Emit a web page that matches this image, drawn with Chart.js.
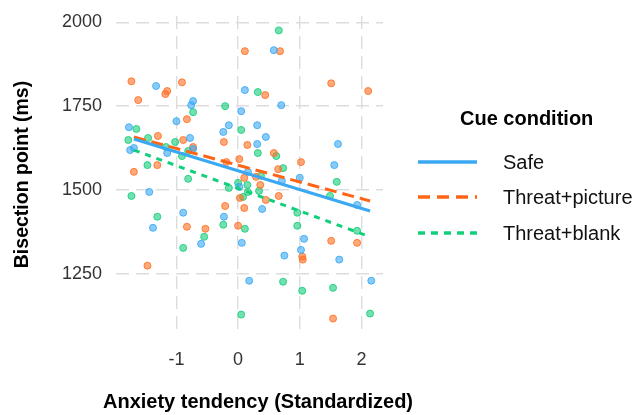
<!DOCTYPE html>
<html>
<head>
<meta charset="utf-8">
<script src="https://cdn.jsdelivr.net/npm/chart.js@4/dist/chart.umd.min.js"></script>
<style>
  body { margin: 0; background: #fff; font-family: "Liberation Sans", Arial, sans-serif; }
  #wrap { position: relative; width: 635px; height: 415px; }
  .lg-title { position: absolute; left: 460px; top: 107px; font-weight: bold; font-size: 20px; color: #000; }
  .lg-item { position: absolute; left: 418px; height: 24px; display: flex; align-items: center; font-size: 20px; color: #111; }
  .lg-item svg { margin-right: 26px; }
</style>
</head>
<body>
<div id="wrap">
  <canvas id="chart" width="635" height="415"></canvas>
  <div class="lg-title">Cue condition</div>
  <div class="lg-item" style="top:150px"><svg width="59" height="6"><line x1="0" y1="3" x2="59" y2="3" stroke="#3aa8f2" stroke-width="3.3"/></svg>Safe</div>
  <div class="lg-item" style="top:185px"><svg width="59" height="6"><line x1="0" y1="3" x2="59" y2="3" stroke="#ff6516" stroke-width="3.3" stroke-dasharray="12 7"/></svg>Threat+picture</div>
  <div class="lg-item" style="top:221px"><svg width="59" height="6"><line x1="0" y1="3" x2="59" y2="3" stroke="#12cf7c" stroke-width="3.3" stroke-dasharray="7 6"/></svg>Threat+blank</div>
</div>
<script>
// tick values
const xTicks = [-1, 0, 1, 2];
const yTicks = [1250, 1500, 1750, 2000];

// Safe
const safeX = [-1.33, 0.11, -0.73, -0.76, 0.05, -1.00, -1.77, -0.15, -0.24, 0.31, -0.78, 0.58, 0.70, 0.45, 0.31,
  -1.75, -1.69, -0.73, -1.15, 1.62, 1.56, 0.02, 1.00, 0.71, 1.93, 0.39, 1.07, 0.06, 1.02, 0.75, 1.64, 0.18, 2.16,
  -0.89, -0.23, -1.38, -0.60, -1.44, 0.16];
const safeY = [1810, 1798, 1765, 1753, 1735, 1705, 1687, 1693, 1673, 1693, 1655, 1917, 1753, 1658, 1637,
  1619, 1625, 1622, 1610, 1637, 1574, 1509, 1536, 1527, 1455, 1443, 1354, 1342, 1321, 1304, 1292, 1229, 1229,
  1432, 1420, 1387, 1339, 1494, 1554];

// Threat+picture
const picX = [0.11, -1.73, -1.15, -1.18, -0.91, -1.62, -0.83, -1.30, -0.89, -0.23, 0.15, -0.73, 0.02, -0.19, -1.31,
  -1.69, 0.68, 0.44, 1.51, 2.11, 0.58, 1.02, 0.65, 0.10, 0.29, 0.36, 0.03, 0.66, 0.45, 0.10, 0.00, 1.51, 1.93,
  1.04, 1.05, 1.54, -0.21, -0.83, -0.53, -1.47];
const picY = [1914, 1824, 1795, 1786, 1821, 1768, 1711, 1661, 1649, 1643, 1634, 1628, 1592, 1583, 1574,
  1554, 1914, 1783, 1818, 1795, 1610, 1583, 1562, 1536, 1539, 1515, 1476, 1482, 1470, 1446, 1393, 1348, 1342,
  1301, 1292, 1116, 1452, 1390, 1384, 1274];

// Threat+blank
const blankX = [-0.21, -0.73, -1.65, 0.05, -1.46, -1.78, -1.02, -1.17, -0.81, -0.91, -1.47, 0.66, 0.32, 0.32, 0.62,
  0.73, 0.37, 1.60, 0.00, 0.15, 0.16, 0.34, 0.08, 1.49, 0.96, 0.96, 0.11, 1.93, 0.73, 1.54, 1.04, 0.05, 2.14,
  -0.81, -1.73, -0.15, -1.31, -0.24, -0.55, -0.89];
const blankY = [1750, 1732, 1682, 1679, 1655, 1649, 1643, 1628, 1616, 1601, 1574, 1976, 1792, 1610, 1601,
  1565, 1542, 1524, 1521, 1515, 1494, 1497, 1479, 1482, 1432, 1393, 1384, 1378, 1226, 1208, 1199, 1128, 1131,
  1533, 1482, 1506, 1420, 1396, 1360, 1327];

// fitted lines (ends)
const fitX = [-1.69, 2.14];
const fitSafe = [1652, 1437];
const fitPic = [1658, 1467];
const fitBlank = [1619, 1360];

const pts = (xs, ys) => xs.map((x, i) => ({ x: x, y: ys[i] }));

const scatter = (label, xs, ys, rgb) => ({
  type: 'scatter',
  label: label,
  data: pts(xs, ys),
  backgroundColor: `rgba(${rgb},0.6)`,
  borderColor: `rgba(${rgb},0.85)`,
  borderWidth: 1,
  pointRadius: 3.5,
  order: 2
});

const fit = (label, ys, color, dash) => ({
  type: 'line',
  label: label,
  data: pts(fitX, ys),
  borderColor: color,
  borderWidth: 3,
  borderDash: dash,
  pointRadius: 0,
  fill: false,
  order: 1
});

// no extra room for tick labels at the ends, the plot area is set by hand
const noPad = (s) => { s.paddingTop = 0; s.paddingBottom = 0; s.paddingLeft = 0; s.paddingRight = 0; };

// x axis title, drawn where ggplot put it
const xTitle = {
  id: 'xTitle',
  afterDraw(chart) {
    const ctx = chart.ctx;
    ctx.save();
    ctx.font = 'bold 20px "Liberation Sans", Arial, sans-serif';
    ctx.fillStyle = '#000';
    ctx.textAlign = 'center';
    ctx.textBaseline = 'middle';
    ctx.fillText('Anxiety tendency (Standardized)', 258, 402);
    ctx.restore();
  }
};

new Chart(document.getElementById('chart'), {
  data: {
    datasets: [
      scatter('Safe', safeX, safeY, '56,168,245'),
      scatter('Threat+picture', picX, picY, '255,112,35'),
      scatter('Threat+blank', blankX, blankY, '22,205,122'),
      fit('Safe fit', fitSafe, '#3aa8f2', []),
      fit('Threat+picture fit', fitPic, '#ff6516', [12, 6]),
      fit('Threat+blank fit', fitBlank, '#12cf7c', [6, 6])
    ]
  },
  options: {
    responsive: false,
    animation: false,
    layout: { padding: { left: 0, right: 252, top: 16, bottom: 0 } },
    plugins: { legend: { display: false }, tooltip: { enabled: false } },
    scales: {
      x: {
        type: 'linear',
        min: -1.98,
        max: 2.35,
        afterBuildTicks: (s) => { s.ticks = xTicks.map(v => ({ value: v })); },
        afterFit: (s) => { s.height = 82; noPad(s); },
        grid: { color: '#dddddd', lineWidth: 1.4, drawTicks: false },
        border: { display: false, dash: [13, 7] },
        ticks: { padding: 16, color: '#333', font: { size: 18, family: '"Liberation Sans", Arial, sans-serif' } }
      },
      y: {
        type: 'linear',
        min: 1073,
        max: 2019,
        afterBuildTicks: (s) => { s.ticks = yTicks.map(v => ({ value: v })); },
        afterFit: (s) => { s.width = 116; noPad(s); },
        grid: { color: '#dddddd', lineWidth: 1.4, drawTicks: false },
        border: { display: false, dash: [13, 7] },
        ticks: {
          padding: 14,
          color: '#333',
          font: { size: 18, family: '"Liberation Sans", Arial, sans-serif' },
          callback: (v) => String(v)
        },
        title: {
          display: true,
          text: 'Bisection point (ms)',
          color: '#000',
          padding: { top: 11, bottom: 0 },
          font: { size: 19.5, weight: 'bold', family: '"Liberation Sans", Arial, sans-serif' }
        }
      }
    }
  },
  plugins: [xTitle]
});
</script>
</body>
</html>
